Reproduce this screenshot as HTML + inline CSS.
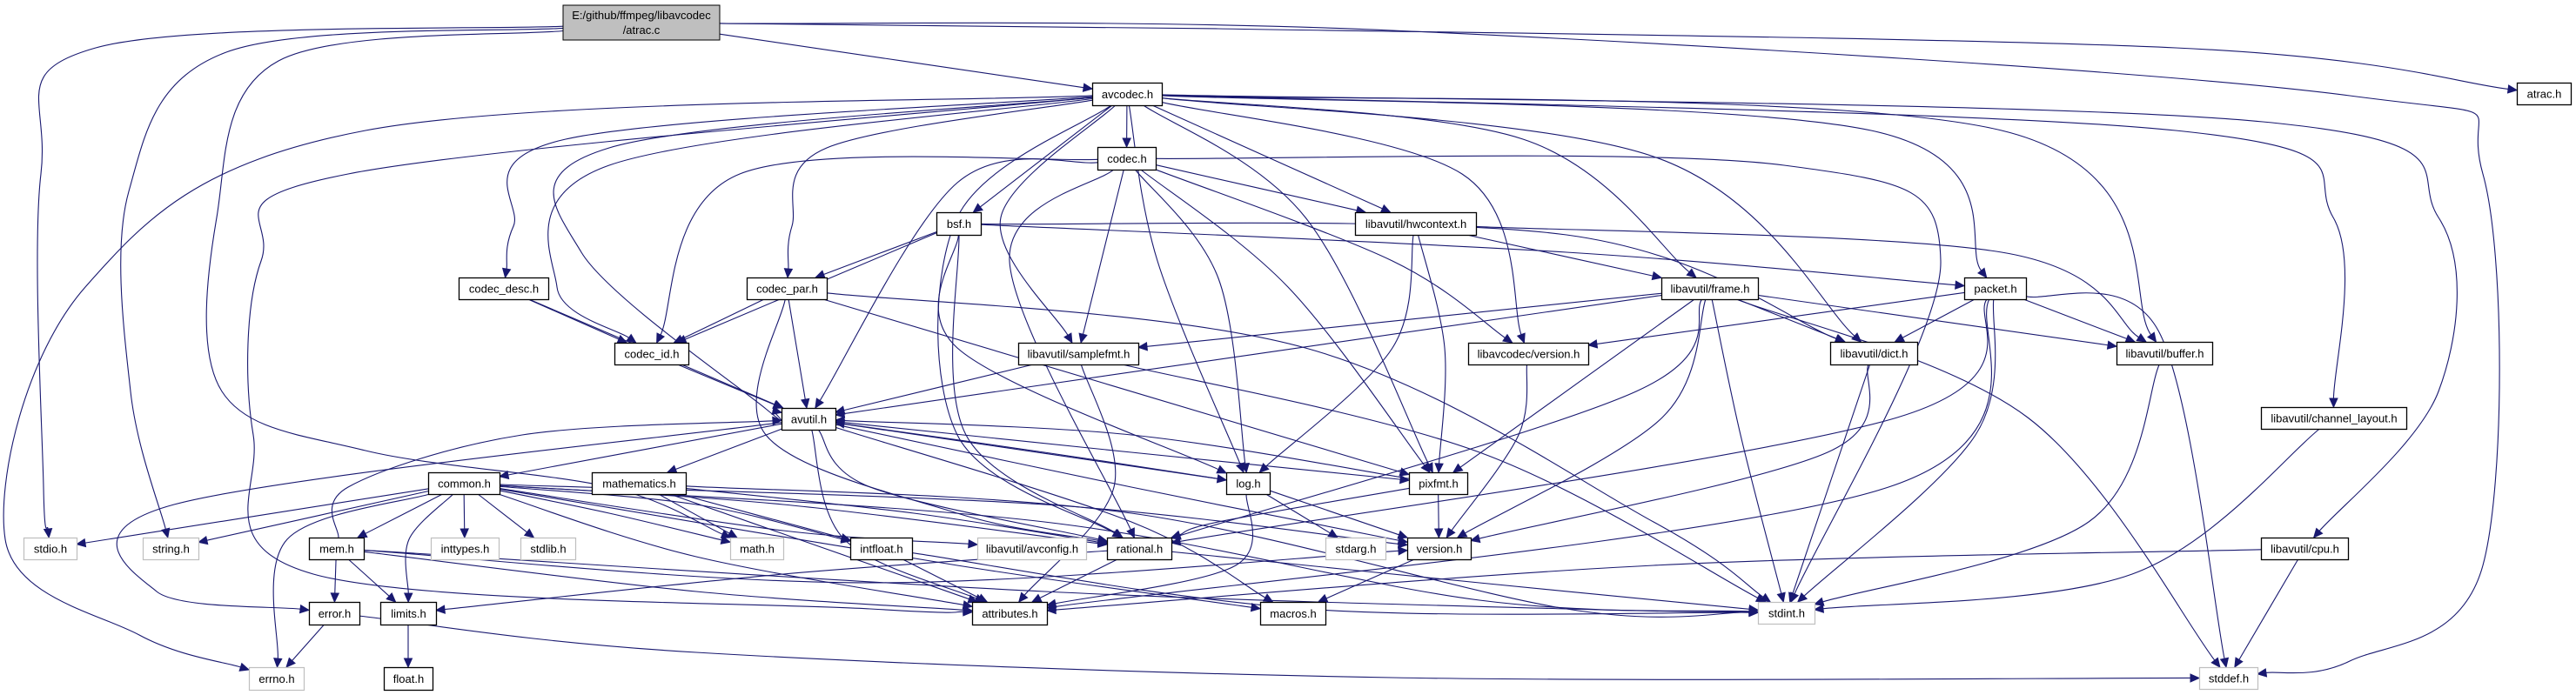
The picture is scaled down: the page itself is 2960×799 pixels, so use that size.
<!DOCTYPE html>
<html><head><meta charset="utf-8">
<style>
html,body{margin:0;padding:0;background:#fff;}
svg{display:block;}
text{font-family:"Liberation Sans",sans-serif;font-size:13px;fill:#000;}
</style></head>
<body>
<svg id="g" width="2960" height="799" xmlns="http://www.w3.org/2000/svg">
<g id="edges"></g>
<g id="nodes">
<rect x="647" y="6" width="180" height="40" fill="#bfbfbf" stroke="#000"/>
<text x="737" y="22" text-anchor="middle">E:/github/ffmpeg/libavcodec</text>
<text x="737" y="39" text-anchor="middle">/atrac.c</text>
</g>
</svg>
<script>
var N={
"avcodec.h":[1255,1335,95,121,0],
"atrac.h":[2892,2954,95,120,0],
"codec.h":[1261,1328,169,195,0],
"bsf.h":[1076,1127,244,270,0],
"libavutil/hwcontext.h":[1557,1696,244,270,0],
"codec_desc.h":[527,630,319,344,0],
"codec_par.h":[858,950,319,344,0],
"libavutil/frame.h":[1909,2020,319,344,0],
"packet.h":[2257,2328,319,344,0],
"codec_id.h":[706,791,394,419,0],
"libavutil/samplefmt.h":[1170,1308,394,419,0],
"libavcodec/version.h":[1687,1825,394,419,0],
"libavutil/dict.h":[2103,2203,393,419,0],
"libavutil/buffer.h":[2432,2542,393,419,0],
"avutil.h":[898,960,469,494,0],
"libavutil/channel_layout.h":[2598,2765,468,493,0],
"common.h":[492,574,543,568,0],
"mathematics.h":[680,788,543,568,0],
"log.h":[1409,1459,543,568,0],
"pixfmt.h":[1619,1686,543,568,0],
"stdio.h":[27,88,618,643,1],
"string.h":[164,228,618,643,1],
"mem.h":[355,418,618,643,0],
"inttypes.h":[495,573,618,643,1],
"stdlib.h":[598,661,618,643,1],
"math.h":[839,900,618,643,1],
"intfloat.h":[977,1048,618,643,0],
"libavutil/avconfig.h":[1123,1248,618,643,1],
"rational.h":[1272,1346,618,643,0],
"stdarg.h":[1523,1592,618,643,1],
"version.h":[1617,1690,618,643,0],
"libavutil/cpu.h":[2598,2698,618,643,0],
"error.h":[355,413,692,718,0],
"limits.h":[437,501,692,718,0],
"attributes.h":[1117,1203,692,718,0],
"macros.h":[1448,1523,692,718,0],
"stdint.h":[2020,2085,692,717,1],
"errno.h":[286,349,767,793,1],
"float.h":[441,497,767,793,0],
"stddef.h":[2527,2594,767,792,1]
};
N["atrac.c"]=[647,827,6,46,0];
var E=[
["atrac.c","stdio.h",[[110,55],[47,200],[50,560]]],
["atrac.c","string.h",[[260,60],[148,220],[150,450]]],
["atrac.c","math.h",[[320,70],[249,250],[255,450],[420,518],[700,560]]],
["atrac.c","avcodec.h"],
["atrac.c","atrac.h",[[1400,33],[2500,55]]],
["atrac.c","stddef.h",[[1600,35],[2700,110],[2853,200],[2853,650],[2700,760]]],
["avcodec.h","errno.h",[[420,150],[98,330],[6,620],[160,730]]],
["avcodec.h","attributes.h",[[400,200],[300,300],[291,500],[360,660],[1000,700]]],
["avcodec.h","avutil.h",[[700,170],[668,290],[880,470]]],
["avcodec.h","codec_desc.h",[[650,160],[590,260]]],
["avcodec.h","codec_id.h",[[700,190],[640,330]]],
["avcodec.h","codec_par.h",[[950,170],[910,260]]],
["avcodec.h","bsf.h"],
["avcodec.h","codec.h"],
["avcodec.h","libavutil/hwcontext.h"],
["avcodec.h","libavutil/frame.h",[[1750,160]]],
["avcodec.h","packet.h",[[2150,150]]],
["avcodec.h","libavutil/buffer.h",[[2300,150]]],
["avcodec.h","libavutil/dict.h",[[1900,180]]],
["avcodec.h","log.h",[[1330,300]]],
["avcodec.h","pixfmt.h",[[1500,250]]],
["avcodec.h","rational.h",[[1100,250],[1100,500]]],
["avcodec.h","libavutil/samplefmt.h",[[1150,250]]],
["avcodec.h","libavcodec/version.h",[[1680,200]]],
["avcodec.h","libavutil/channel_layout.h",[[2500,150],[2681,250]]],
["avcodec.h","libavutil/cpu.h",[[2600,140],[2802,250],[2802,450]]],
["codec.h","stdint.h",[[2050,190],[2230,300]]],
["codec.h","avutil.h",[[1100,210]]],
["codec.h","libavutil/hwcontext.h"],
["codec.h","log.h",[[1400,320]]],
["codec.h","pixfmt.h",[[1480,330]]],
["codec.h","rational.h",[[1160,300]]],
["codec.h","libavutil/samplefmt.h"],
["codec.h","libavcodec/version.h",[[1600,300]]],
["codec.h","codec_id.h",[[850,200]]],
["bsf.h","libavutil/dict.h",[[1800,270]]],
["bsf.h","log.h",[[1100,400]]],
["bsf.h","rational.h",[[1110,500]]],
["bsf.h","codec_id.h"],
["bsf.h","codec_par.h"],
["bsf.h","packet.h",[[1800,290]]],
["codec_desc.h","avutil.h"],
["codec_desc.h","codec_id.h"],
["codec_par.h","stdint.h",[[1500,400],[1900,600]]],
["codec_par.h","avutil.h"],
["codec_par.h","rational.h",[[880,500],[1100,590]]],
["codec_par.h","pixfmt.h"],
["codec_par.h","codec_id.h"],
["codec_id.h","avutil.h"],
["libavutil/hwcontext.h","libavutil/buffer.h",[[2300,290]]],
["libavutil/hwcontext.h","libavutil/frame.h"],
["libavutil/hwcontext.h","log.h",[[1600,400]]],
["libavutil/hwcontext.h","pixfmt.h",[[1660,400]]],
["libavutil/frame.h","stddef.h",[[2330,480]]],
["libavutil/frame.h","stdint.h",[[2000,500]]],
["libavutil/frame.h","avutil.h"],
["libavutil/frame.h","libavutil/buffer.h"],
["libavutil/frame.h","libavutil/dict.h"],
["libavutil/frame.h","rational.h",[[1880,450]]],
["libavutil/frame.h","libavutil/samplefmt.h"],
["libavutil/frame.h","pixfmt.h"],
["libavutil/frame.h","version.h",[[1910,480]]],
["packet.h","stddef.h",[[2480,380]]],
["packet.h","stdint.h",[[2270,500]]],
["packet.h","attributes.h",[[2170,560]]],
["packet.h","libavutil/buffer.h"],
["packet.h","libavutil/dict.h"],
["packet.h","rational.h",[[2180,480]]],
["packet.h","libavcodec/version.h"],
["libavutil/samplefmt.h","stdint.h",[[1700,520]]],
["libavutil/samplefmt.h","avutil.h"],
["libavutil/samplefmt.h","attributes.h",[[1280,560]]],
["libavcodec/version.h","version.h",[[1745,500]]],
["libavutil/dict.h","stdint.h"],
["libavutil/dict.h","version.h",[[2100,520]]],
["libavutil/buffer.h","stdint.h",[[2400,600]]],
["libavutil/channel_layout.h","stdint.h",[[2450,660]]],
["libavutil/cpu.h","stddef.h"],
["libavutil/cpu.h","attributes.h",[[1900,650]]],
["avutil.h","common.h"],
["avutil.h","error.h",[[200,580],[180,680]]],
["avutil.h","rational.h",[[1000,560]]],
["avutil.h","version.h",[[1300,560]]],
["avutil.h","macros.h",[[1300,600]]],
["avutil.h","mathematics.h"],
["avutil.h","log.h"],
["avutil.h","pixfmt.h",[[1300,520]]],
["avutil.h","attributes.h",[[970,620]]],
["common.h","errno.h",[[330,620]]],
["common.h","inttypes.h"],
["common.h","limits.h",[[470,620]]],
["common.h","math.h",[[700,590]]],
["common.h","stdint.h",[[1200,600],[1700,690]]],
["common.h","stdio.h"],
["common.h","stdlib.h"],
["common.h","string.h"],
["common.h","attributes.h",[[800,640]]],
["common.h","macros.h",[[1100,650]]],
["common.h","version.h",[[1200,580]]],
["common.h","libavutil/avconfig.h",[[900,610]]],
["common.h","mem.h"],
["common.h","intfloat.h",[[800,580]]],
["common.h","rational.h",[[900,580]]],
["mem.h","limits.h"],
["mem.h","stdint.h",[[1200,680],[1800,700]]],
["mem.h","attributes.h",[[800,680]]],
["mem.h","error.h"],
["mem.h","avutil.h",[[400,560],[600,500]]],
["mem.h","version.h",[[1000,670]]],
["error.h","errno.h"],
["error.h","stddef.h",[[800,750],[1600,779]]],
["limits.h","float.h"],
["mathematics.h","stdint.h",[[1300,590],[1800,700]]],
["mathematics.h","math.h"],
["mathematics.h","attributes.h"],
["mathematics.h","rational.h",[[1050,590]]],
["mathematics.h","intfloat.h"],
["intfloat.h","stdint.h",[[1500,700]]],
["intfloat.h","attributes.h"],
["rational.h","stdint.h",[[1700,670]]],
["rational.h","limits.h",[[900,660]]],
["rational.h","attributes.h"],
["log.h","stdarg.h"],
["log.h","avutil.h",[[1200,520]]],
["log.h","attributes.h",[[1420,650]]],
["log.h","version.h"],
["pixfmt.h","version.h"],
["pixfmt.h","avutil.h",[[1300,500]]],
["pixfmt.h","rational.h",[[1400,600]]],
["version.h","macros.h"]
];
var NS="http://www.w3.org/2000/svg";
var svg=document.getElementById("g"),eg=document.getElementById("edges"),ng=document.getElementById("nodes");
function ctr(n){var b=N[n];return [(b[0]+b[1])/2,(b[2]+b[3])/2];}
function clip(n,p){var b=N[n],c=ctr(n),dx=p[0]-c[0],dy=p[1]-c[1];
 var hw=(b[1]-b[0])/2,hh=(b[3]-b[2])/2;if(dx==0&&dy==0)return c;
 var t=Math.min(dx!=0?hw/Math.abs(dx):1e9,dy!=0?hh/Math.abs(dy):1e9);return [c[0]+dx*t,c[1]+dy*t];}
var col="#191970";
E.forEach(function(e){
 var w=e[2]||[];var a=clip(e[0],w.length?w[0]:ctr(e[1]));
 var last=w.length?w[w.length-1]:ctr(e[0]);var z=clip(e[1],last);
 var pts=[a].concat(w).concat([z]);
 // shorten end for arrow
 var pe=pts[pts.length-2],dx=z[0]-pe[0],dy=z[1]-pe[1],L=Math.hypot(dx,dy)||1;dx/=L;dy/=L;
 var tip=z,base=[z[0]-dx*10,z[1]-dy*10];pts[pts.length-1]=base;
 var d="M"+pts[0][0]+","+pts[0][1];
 for(var i=0;i<pts.length-1;i++){var p0=pts[i-1]||pts[i],p1=pts[i],p2=pts[i+1],p3=pts[i+2]||p2;
  var c1=[p1[0]+(p2[0]-p0[0])/6,p1[1]+(p2[1]-p0[1])/6],c2=[p2[0]-(p3[0]-p1[0])/6,p2[1]-(p3[1]-p1[1])/6];
  d+=" C"+c1+" "+c2+" "+p2;}
 var p=document.createElementNS(NS,"path");p.setAttribute("d",d);p.setAttribute("fill","none");p.setAttribute("stroke",col);p.setAttribute("stroke-width","1.1");eg.appendChild(p);
 var ar=document.createElementNS(NS,"polygon");
 ar.setAttribute("points",tip[0]+","+tip[1]+" "+(base[0]-dy*4.5)+","+(base[1]+dx*4.5)+" "+(base[0]+dy*4.5)+","+(base[1]-dx*4.5));
 ar.setAttribute("fill",col);ar.setAttribute("stroke",col);eg.appendChild(ar);
});
Object.keys(N).forEach(function(k){if(k=="atrac.c")return;var b=N[k];
 var r=document.createElementNS(NS,"rect");r.setAttribute("x",b[0]+0.5);r.setAttribute("y",b[2]+0.5);
 r.setAttribute("width",b[1]-b[0]);r.setAttribute("height",b[3]-b[2]);r.setAttribute("fill","#fff");
 r.setAttribute("stroke",b[4]?"#bfbfbf":"#000");r.setAttribute("stroke-width",b[4]?"1.2":"1.3");ng.appendChild(r);
 var t=document.createElementNS(NS,"text");t.setAttribute("x",(b[0]+b[1])/2+0.5);t.setAttribute("y",(b[2]+b[3])/2+5);
 t.setAttribute("text-anchor","middle");t.textContent=k;ng.appendChild(t);
});
</script>
</body></html>
